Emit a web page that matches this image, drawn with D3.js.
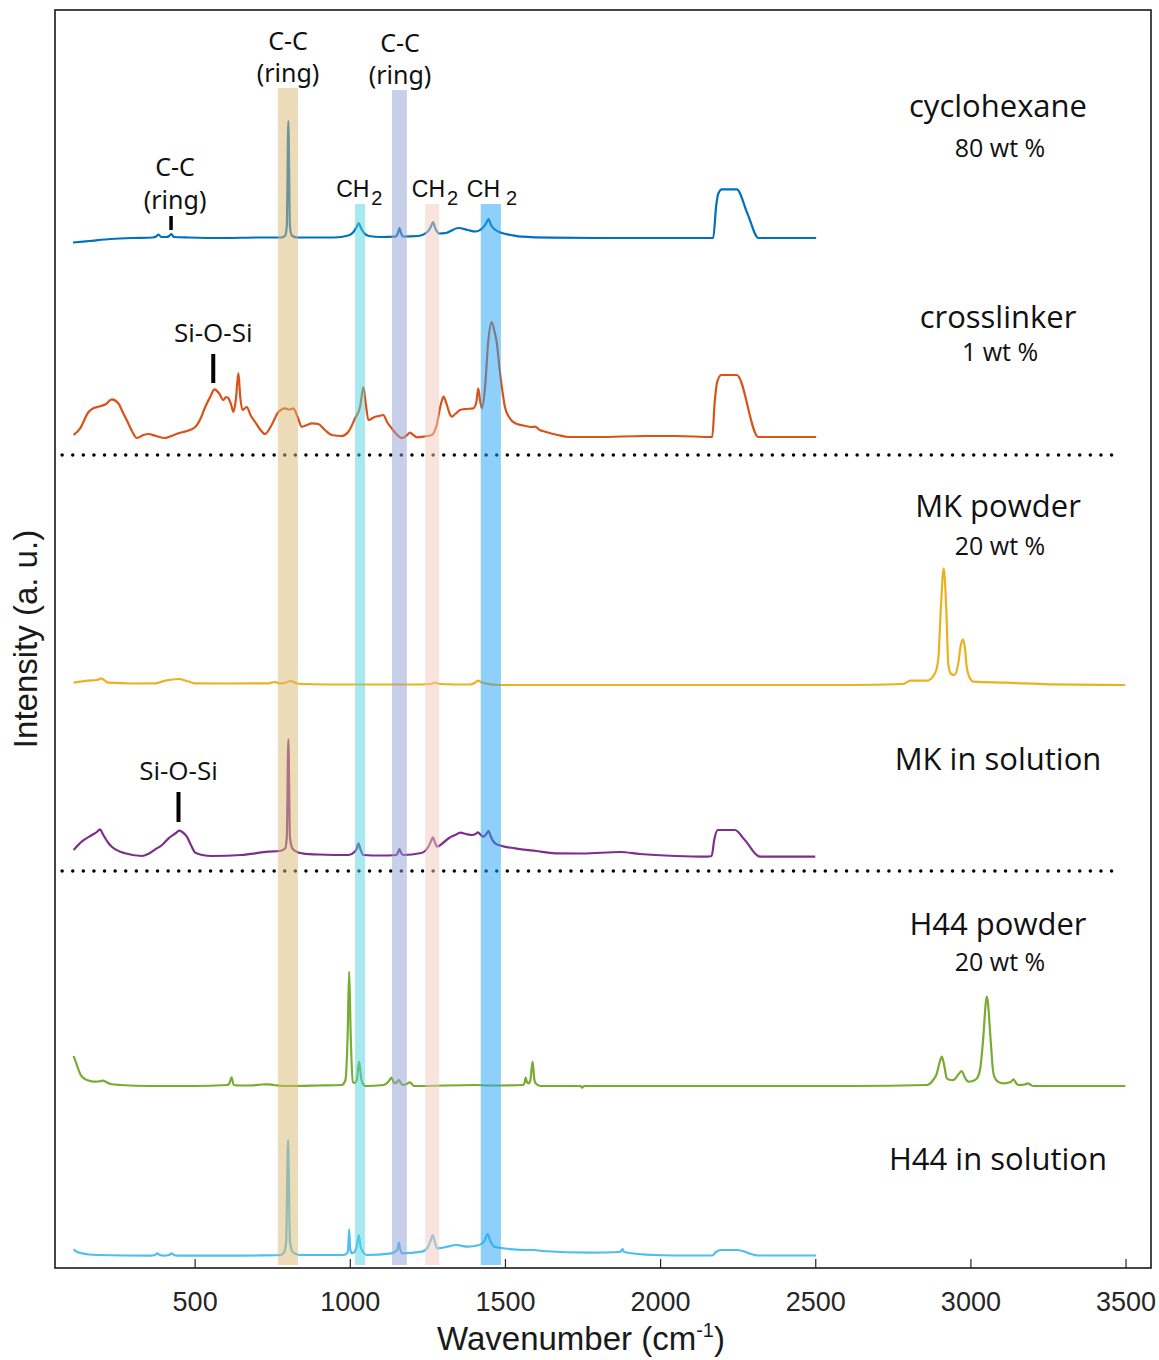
<!DOCTYPE html>
<html>
<head>
<meta charset="utf-8">
<script src="https://cdn.jsdelivr.net/npm/d3@7"></script>
<style>
  body { margin: 0; background: #fff; }
</style>
</head>
<body>
<div id="chart"></div>
<script>
// spectra, [wavenumber cm-1, intensity a.u. above own baseline]
const cyclohexane = [
  [108,-4.5],[160,-3],[230,-1],[300,0],[365,0.5],[376,1.5],[384,3.5],[392,1],[410,1],[418,2],[425,4],[433,1],[480,0.5],
  [600,0],[700,0.5],[780,0.5],[792,2.5],[797,12],[802,117],[807,12],[813,2.5],[830,0.5],[950,0.5],[995,2.5],[1012,6],
  [1022,11],[1029,15],[1036,10],[1046,5],[1062,2],[1100,1],[1148,1.5],[1155,5],[1160,10],[1165,5],[1172,1.5],[1220,2],
  [1250,6],[1261,11],[1268,16],[1275,10],[1288,4.5],[1310,5],[1350,10],[1380,8],[1405,6.5],[1428,10],[1440,15],[1447,19],
  [1455,13],[1470,8],[1490,5],[1520,3],[1554,1.3],[1650,0.3],[1800,0],[2000,0],[2171,0],[2181,33],[2188,44.7],[2199,48.7],
  [2247,48.7],[2282,24],[2317,0],[2400,0],[2503,0]
];
const crosslinker = [
  [110,2],[131,8.7],[158,25],[175,29],[190,30.3],[215,33],[233,37.7],[254,33.7],[268,25],[281,17],[298,6],[314,-1],[335,2],
  [351,3],[375,1],[405,-1],[425,1],[448,3.7],[475,6],[502,10],[520,19],[534,30],[550,40],[564,47.7],[578,44],[593,37],
  [601,40],[609,38.7],[617,33],[625,25],[633,38],[641,64],[647,40],[654,27],[668,30],[680,22],[695,15],[710,8],[727,3],
  [748,12],[770,25],[792,28.7],[805,27.5],[818,28.7],[832,20],[845,10.3],[862,12],[878,13.7],[899,13],[920,7],[942,2],
  [974,1],[995,5],[1017,18.7],[1033,30],[1044,50],[1052,32],[1060,17],[1082,20.3],[1095,21],[1108,22],[1120,15],[1135,8.7],
  [1150,3],[1168,-1],[1185,2],[1194,4.3],[1205,2],[1216,-0.3],[1240,0.5],[1264,2],[1280,12],[1293,32],[1302,40.3],[1312,33],
  [1321,24],[1329,20.3],[1340,23],[1355,27],[1375,28],[1398,28.7],[1408,35],[1414,48.7],[1420,36],[1426,28.7],[1436,50],
  [1446,95],[1457,115],[1466,106],[1474,93.7],[1482,70],[1490,50],[1500,30],[1515,19],[1533,13.7],[1560,11.5],[1585,10],
  [1597,10.3],[1612,7],[1630,5.3],[1670,2],[1705,0],[1800,0],[1950,1],[2050,1],[2168,0],[2176,35],[2184,55],[2197,62],
  [2247,62],[2317,0],[2400,0],[2503,0]
];
const mkPowder = [
  [110,2.3],[158,4.3],[185,5],[199,6.7],[210,4.5],[222,2.3],[300,1.5],[373,1.7],[405,4.3],[448,6],[475,4],[502,1.7],[600,1.5],
  [738,1.7],[759,3],[775,1.5],[795,2.5],[808,4],[825,2],[846,1],[1000,0.5],[1200,0.5],[1262,1],[1275,2.3],[1290,1],[1388,0.5],
  [1402,2],[1413,4.3],[1425,2.5],[1436,1.7],[1484,0],[2000,0],[2612,0],[2784,1],[2806,4.3],[2860,4.3],[2886,11.7],[2897,28],
  [2905,78],[2914,116.7],[2922,78],[2929,20],[2938,11],[2948,10],[2961,21.7],[2968,38],[2975,45.7],[2982,38],[2988,18.3],
  [2998,7],[3010,3.3],[3117,2.3],[3257,0.7],[3499,0]
];
const mkSolution = [
  [110,7],[136,15.3],[169,22],[185,25],[195,27.7],[204,23],[212,18.7],[222,14],[233,10.3],[255,6],[276,3.7],[330,1],[350,3],
  [373,7.7],[395,12],[416,18.7],[440,24],[450,26.3],[460,25],[475,20.3],[488,12],[502,4.3],[525,2],[555,1],[650,2],[738,5.3],
  [775,6],[792,8.7],[797,20],[802,117.7],[807,20],[815,8.7],[830,5],[846,3.7],[900,2.5],[996,2],[1015,5],[1022,8],[1028,13.7],
  [1034,8],[1044,2],[1100,1.5],[1150,2],[1156,5],[1160,8],[1164,5],[1172,2],[1230,4],[1253,10.3],[1262,16],[1268,19.7],
  [1274,15],[1281,10.3],[1300,14],[1320,19],[1340,22],[1356,24.3],[1375,23],[1393,22],[1405,23],[1413,24.7],[1422,22],
  [1431,20.3],[1440,23],[1447,26],[1455,20],[1468,13.7],[1490,11],[1533,8.7],[1600,6],[1662,3.7],[1750,3.5],[1871,5],
  [1935,3],[2050,1],[2150,0.3],[2166,1],[2175,18],[2186,27],[2241,27],[2273,17],[2322,0.3],[2500,0.3]
];
const h44Powder = [
  [110,30],[117,24],[124,17.7],[133,11],[143,7.7],[158,5.5],[174,4.3],[190,4.5],[204,5.3],[218,3.5],[229,2],[260,1],[358,0],
  [500,0],[605,1],[612,2.5],[619,8.7],[626,1],[645,0.5],[690,0.7],[715,1.5],[734,1.7],[755,1],[789,0],[900,0.5],[974,1],
  [986,6],[993,50],[998,114.3],[1003,50],[1010,4],[1016,3],[1023,7],[1030,24.3],[1037,7],[1045,1],[1050,0],[1109,1],
  [1125,4.5],[1134,8.3],[1142,3.5],[1146,2.7],[1152,4],[1158,6],[1164,3],[1173,1],[1186,2.5],[1193,3.7],[1200,2],[1207,0],
  [1405,1],[1450,0.5],[1559,1],[1563,3],[1567,8.3],[1571,4],[1577,2.7],[1582,6],[1589,24.3],[1595,6],[1599,2.7],[1614,0],
  [1743,0],[1749,-1.7],[1755,0],[2000,0],[2612,0],[2860,1],[2880,6],[2892,12.7],[2901,24],[2908,29.3],[2916,20],[2924,7.7],
  [2935,6],[2945,6],[2960,11],[2972,15],[2983,8],[2994,4.3],[3008,5],[3021,7.7],[3032,18],[3040,42.7],[3053,89.3],
  [3066,42.7],[3072,18],[3077,9.3],[3090,4],[3107,2.7],[3130,4],[3139,6.7],[3147,3],[3155,1],[3175,1.5],[3185,2.7],
  [3195,1],[3203,0],[3350,0],[3499,0]
];
const h44Solution = [
  [110,6.7],[122,4],[136,2.7],[160,1.5],[186,1],[358,0.3],[372,1],[380,2.7],[388,1],[401,0.3],[418,1],[426,2.7],[434,1],
  [444,0.3],[617,0.3],[700,0.5],[777,1],[789,4],[795,15],[801,116],[807,15],[816,4],[838,1],[980,1],[992,3],[995,8],
  [998,26.7],[1001,8],[1006,2.7],[1015,4],[1022,9],[1029,21],[1035,9],[1043,4],[1054,1],[1134,2.7],[1153,6],[1158,13.3],
  [1163,6],[1168,2.7],[1232,4.3],[1250,8],[1260,15],[1267,21],[1274,14],[1282,7.7],[1310,9],[1343,11],[1380,9.3],[1417,11],
  [1434,15],[1444,22],[1453,15],[1466,9.3],[1500,7.5],[1560,6],[1595,6],[1620,5],[1774,3.3],[1872,4],[1879,7],[1884,4],
  [1981,1],[2100,0.5],[2168,0.5],[2180,4],[2194,6],[2248,6],[2316,0.5],[2503,0.5]
];

const spectra = [cyclohexane, crosslinker, mkPowder, mkSolution, h44Powder, h44Solution];
const sampleNames = ["cyclohexane", "crosslinker", "MK powder", "MK in solution", "H44 powder", "H44 in solution"];
const sampleLoads = ["80 wt %", "1 wt %", "20 wt %", "", "20 wt %", ""];
const stackOffsets = [1030, 831, 583, 411, 182, 12];
const lineColors = ["#0072BD", "#D95319", "#EDB120", "#7E2F8E", "#77AC30", "#4DBEEE"];

// highlighted bands (cm-1) and their top in a.u.
const bandRanges = [[768, 833], [1017, 1049], [1136, 1184], [1243, 1288], [1422, 1487]];
const bandTops = [1180, 1064, 1178, 1064, 1064];
const bandColors = ["#d9b771", "#4dd5df", "#919fd1", "#f1c9b9", "#1fa1f5"];

const separators = [813, 397];
const xTicks = [500, 1000, 1500, 2000, 2500, 3000, 3500];

const W = 1159, H = 1360;
const margin = {top: 10, right: 8, bottom: 92, left: 55};

const svg = d3.select("#chart").append("svg")
  .attr("width", W)
  .attr("height", H);

const x = d3.scaleLinear().domain([50, 3582]).range([margin.left, W - margin.right]);
const y = d3.scaleLinear().domain([0, 1258]).range([H - margin.bottom, margin.top]);

const line = d3.line()
  .x(d => x(d[0]))
  .y(d => y(d[1]))
  .curve(d3.curveMonotoneX);

// spectra
svg.append("g")
  .selectAll("path")
  .data(spectra)
  .join("path")
  .attr("fill", "none")
  .attr("stroke", (d, i) => lineColors[i])
  .attr("stroke-width", 2.2)
  .attr("stroke-linejoin", "round")
  .attr("d", (d, i) => line(d.map(p => [p[0], p[1] + stackOffsets[i]])));

// dotted separators
svg.append("g")
  .selectAll("line")
  .data(separators)
  .join("line")
  .attr("x1", x(73))
  .attr("x2", x(3476))
  .attr("y1", d => y(d))
  .attr("y2", d => y(d))
  .attr("stroke", "#000")
  .attr("stroke-width", 3.5)
  .attr("stroke-linecap", "round")
  .attr("stroke-dasharray", "0 10.6");

// bands drawn on top, semi-transparent
svg.append("g")
  .selectAll("rect")
  .data(bandRanges)
  .join("rect")
  .attr("x", d => x(d[0]))
  .attr("width", d => x(d[1]) - x(d[0]))
  .attr("y", (d, i) => y(bandTops[i]))
  .attr("height", (d, i) => y(3) - y(bandTops[i]))
  .attr("fill", (d, i) => bandColors[i])
  .attr("opacity", 0.5);

// axes
const xAxis = d3.axisBottom(x)
  .tickValues(xTicks)
  .tickFormat(d3.format("d"))
  .tickSizeInner(-9)
  .tickSizeOuter(0)
  .tickPadding(24);

const gx = svg.append("g")
  .attr("transform", `translate(0,${H - margin.bottom})`)
  .call(xAxis);
gx.select(".domain").remove();
gx.selectAll(".tick line").attr("stroke", "#262626").attr("stroke-width", 1.2);
gx.selectAll(".tick text")
  .attr("font-family", "Liberation Sans, Arial, sans-serif")
  .attr("font-size", 27)
  .attr("fill", "#262626");

svg.append("rect")
  .attr("x", margin.left)
  .attr("y", margin.top)
  .attr("width", W - margin.left - margin.right)
  .attr("height", H - margin.top - margin.bottom)
  .attr("fill", "none")
  .attr("stroke", "#1a1a1a")
  .attr("stroke-width", 1.6);

const xLabel = svg.append("text")
  .attr("x", (margin.left + W - margin.right) / 2 - 22)
  .attr("y", 1350)
  .attr("text-anchor", "middle")
  .attr("font-family", "Liberation Sans, Arial, sans-serif")
  .attr("font-size", 33)
  .attr("fill", "#1a1a1a");
xLabel.append("tspan").text("Wavenumber (cm");
xLabel.append("tspan").attr("font-size", 20).attr("dy", -13).text("-1");
xLabel.append("tspan").attr("dy", 13).text(")");

svg.append("text")
  .attr("transform", `translate(37,${(margin.top + H - margin.bottom) / 2}) rotate(-90)`)
  .attr("text-anchor", "middle")
  .attr("font-family", "Liberation Sans, Arial, sans-serif")
  .attr("font-size", 33)
  .attr("fill", "#1a1a1a")
  .text("Intensity (a. u.)");

// sample names on the right
const labelX = x(3089);
const nameY = [1151, 940, 751, 498, 333, 98];
const loadY = [1111, 907, 713, null, 297, null];
const sampleLabels = sampleNames.map((name, i) => ({name, load: sampleLoads[i], nameV: nameY[i], loadV: loadY[i]}));

svg.append("g")
  .selectAll("text")
  .data(sampleLabels)
  .join("text")
  .attr("x", labelX)
  .attr("y", d => y(d.nameV))
  .attr("text-anchor", "middle")
  .attr("font-family", "Open Sans, sans-serif")
  .attr("font-size", 31)
  .attr("fill", "#111")
  .text(d => d.name);

svg.append("g")
  .selectAll("text")
  .data(sampleLabels.filter(d => d.load))
  .join("text")
  .attr("x", labelX + 2)
  .attr("y", d => y(d.loadV))
  .attr("text-anchor", "middle")
  .attr("font-family", "Open Sans, sans-serif")
  .attr("font-size", 25)
  .attr("fill", "#111")
  .text(d => d.load);

// peak annotations
const ringLabels = [
  {wn: 801, top: 1218, bottom: 1186},
  {wn: 1162, top: 1216, bottom: 1184},
  {wn: 437, top: 1092, bottom: 1059}
];
ringLabels.forEach(r => {
  [["C-C", r.top], ["(ring)", r.bottom]].forEach(([t, v]) => {
    svg.append("text")
      .attr("x", x(r.wn))
      .attr("y", y(v))
      .attr("text-anchor", "middle")
      .attr("font-family", "Noto Sans, Open Sans, sans-serif")
      .attr("font-size", 25)
      .attr("fill", "#111")
      .text(t);
  });
});

const ch2Labels = [
  {wn: 956, gap: 0},
  {wn: 1200, gap: 0},
  {wn: 1377, gap: 4}
];
ch2Labels.forEach(c => {
  const t = svg.append("text")
    .attr("x", x(c.wn))
    .attr("y", y(1071))
    .attr("font-family", "Liberation Sans, Arial, sans-serif")
    .attr("font-size", 23)
    .attr("fill", "#111");
  t.append("tspan").text("CH");
  t.append("tspan").attr("dx", c.gap + 2).attr("dy", 8).attr("font-size", 20).text("2");
});

const siLabels = [
  {wn: 560, text: 926, barTop: 914, barBottom: 885},
  {wn: 448, text: 488, barTop: 476, barBottom: 446}
];
siLabels.forEach(s => {
  svg.append("text")
    .attr("x", x(s.wn))
    .attr("y", y(s.text))
    .attr("text-anchor", "middle")
    .attr("font-family", "Open Sans, sans-serif")
    .attr("font-size", 26)
    .attr("fill", "#111")
    .text("Si-O-Si");
  svg.append("line")
    .attr("x1", x(s.wn)).attr("x2", x(s.wn))
    .attr("y1", y(s.barTop)).attr("y2", y(s.barBottom))
    .attr("stroke", "#000")
    .attr("stroke-width", 4);
});

// small tick under the low C-C (ring) label
svg.append("line")
  .attr("x1", x(424)).attr("x2", x(424))
  .attr("y1", y(1052)).attr("y2", y(1038))
  .attr("stroke", "#000")
  .attr("stroke-width", 3.5);
</script>
</body>
</html>
